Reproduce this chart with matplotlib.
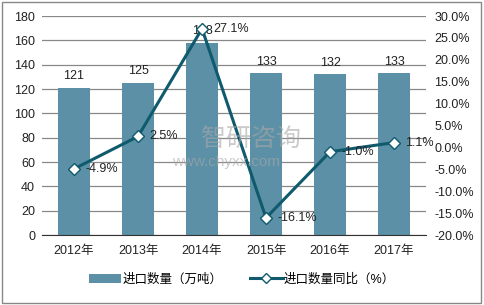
import numpy as np
import matplotlib.pyplot as plt
from matplotlib.lines import Line2D
from matplotlib.patches import Patch

plt.rcParams['font.family'] = ['Liberation Sans', 'Noto Sans CJK SC', 'DejaVu Sans']

years = ['2012年', '2013年', '2014年', '2015年', '2016年', '2017年']
volume = [121, 125, 158, 133, 132, 133]
growth = [-4.9, 2.5, 27.1, -16.1, -1.0, 1.1]

bar_color = '#5b90a7'
line_color = '#0f5a6d'
grid_color = '#888888'

fig = plt.figure(figsize=(4.84, 3.05), dpi=100)
ax = fig.add_axes([0.0868, 0.2295, 0.7934, 0.718])
x = np.arange(len(years))

ax.bar(x, volume, width=0.5, color=bar_color, zorder=2)
ax.set_ylim(0, 180)
ax.set_yticks(range(0, 181, 20))
ax.set_xlim(-0.5, len(years) - 0.5)
ax.set_xticks(x)
ax.set_xticklabels(years)
ax.yaxis.grid(True, color=grid_color, linewidth=0.9, zorder=0)
ax.set_axisbelow(True)
for s in ['top', 'right', 'left']:
    ax.spines[s].set_visible(False)
ax.spines['bottom'].set_color('#333333')
ax.tick_params(axis='both', length=0, labelsize=9, colors='#222222', pad=5)
ax.tick_params(axis='x', pad=7)

ax2 = ax.twinx()
ax2.plot(x, growth, color=line_color, linewidth=2.2, marker='D', markersize=6,
         markerfacecolor='white', markeredgecolor=line_color, markeredgewidth=1, zorder=4)
ax2.set_ylim(-20, 30)
ax2.set_yticks(range(-20, 31, 5))
ax2.set_yticklabels([f'{v:.1f}%' for v in range(-20, 31, 5)])
for s in ax2.spines.values():
    s.set_visible(False)
ax2.tick_params(axis='y', length=0, labelsize=9, colors='#222222', pad=6)

# bar labels drawn on top axes so they are not hidden by the line
for xi, v in zip(x, volume):
    ax2.annotate(str(v), xy=(xi, v), xycoords=ax.transData, xytext=(0, 4),
                 textcoords='offset points', ha='center', va='bottom', fontsize=9,
                 color='#222222', zorder=3)

for xi, g in zip(x, growth):
    ax2.annotate(f'{g:.1f}%', xy=(xi, g), xytext=(8, 0), textcoords='offset points',
                 ha='left', va='center', fontsize=9, color='#222222', zorder=5)

# watermark
fig.text(0.415, 0.545, '智研咨询', fontsize=18, color='#a8a8a8', alpha=0.6, ha='left', va='center')
fig.text(0.355, 0.47, 'www.chyxx.com', fontsize=11, color='#a8a8a8', alpha=0.6, ha='left', va='center')

handles = [Patch(facecolor=bar_color, edgecolor='none'),
           Line2D([0], [0], color=line_color, linewidth=2.2, marker='D', markersize=5,
                  markerfacecolor='white', markeredgecolor=line_color)]
fig.legend(handles, ['进口数量（万吨）', '进口数量同比（%）'], loc='center',
           bbox_to_anchor=(0.5, 0.083), ncol=2, frameon=False, fontsize=9,
           handlelength=2.6, handletextpad=0.1, columnspacing=2.2)

fig.add_artist(plt.Rectangle((0.004, 0.006), 0.99, 0.988, transform=fig.transFigure,
                             fill=False, edgecolor='#888888', linewidth=1))

fig.savefig('out.png', dpi=100)
